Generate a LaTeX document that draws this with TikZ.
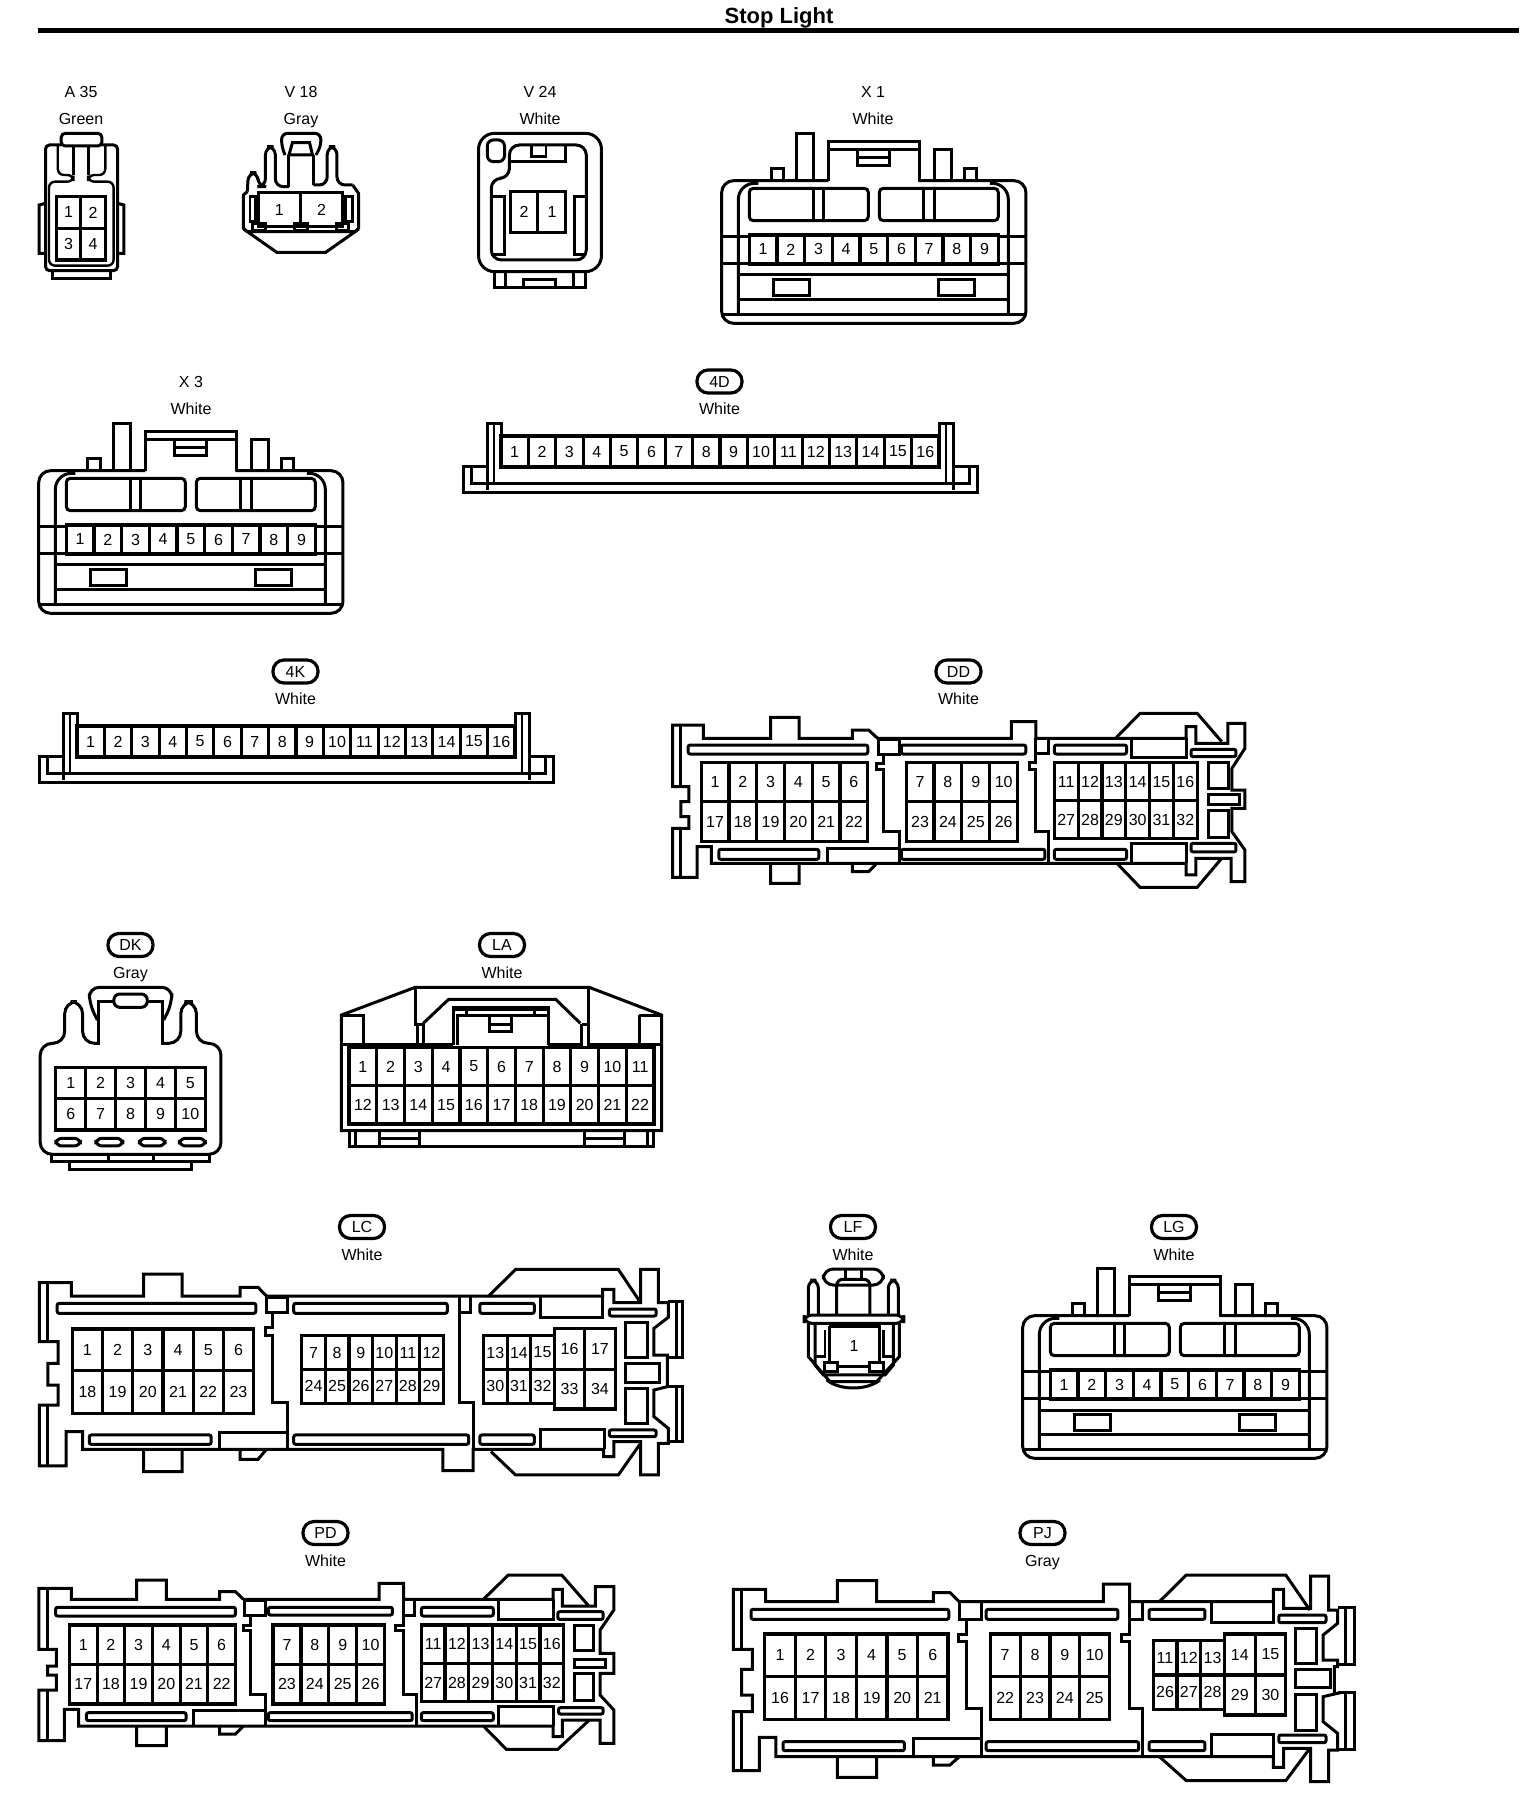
\documentclass[tikz,border=0pt]{standalone}
\usepackage{fontspec}
\setmainfont{Liberation Sans}
\tikzset{
  conn/.style={line width=1.5pt,line join=miter,draw=black},
  thin conn/.style={line width=1.2pt,line join=miter,draw=black},
  pinline/.style={line width=1.6pt,draw=black},
  pinnum/.style={font=\fontsize{8}{9}\selectfont,inner sep=0pt},
  lbl/.style={font=\fontsize{8}{9}\selectfont,inner sep=0pt,text height=5.8pt,text depth=0pt},
  pill/.style={draw=black,line width=1.6pt,rounded corners=5.5pt,minimum width=22.5pt,minimum height=11.5pt,inner sep=0pt,font=\fontsize{8}{9}\selectfont},
  slot/.style={line width=1.5pt,draw=black,rounded corners=1pt}
}
% x0,y0,x1,y1,cols,first number
\newcommand\pinrow[6]{%
  \pgfmathsetmacro\cw{(#3-#1)/#5}%
  \pgfmathsetmacro\yc{(#2+#4)/2}%
  \draw[pinline] (#1,#2) rectangle (#3,#4);
  \foreach \k in {1,...,#5}{%
    \pgfmathsetmacro\xa{#1+\k*\cw}%
    \pgfmathsetmacro\xc{#1+(\k-.5)*\cw}%
    \pgfmathtruncatemacro\num{#6+\k-1}%
    \ifnum\k<#5 \draw[pinline] (\xa,#2)--(\xa,#4);\fi
    \node[pinnum] (\cn-\num) at (\xc,\yc) {\num};
  }%
}
\newcommand\plainhead[4]{% name,x,line1,line2
  \node[lbl] (#1-id) at (#2,92) {#3};
  \node[lbl] (#1-col) at (#2,119) {#4};
}
\newcommand\pillhead[5]{% name,x,y1,text,colour
  \node[pill] (#1-id) at (#2,#3) {#4};
  \pgfmathsetmacro\yb{#3+27.5}
  \node[lbl] (#1-col) at (#2,\yb) {#5};
}
% X-type connector
\newcommand\xtype[3]{% dx dy name
\begin{scope}[shift={(700+#1,120+#2)},xscale=.3333,yscale=.3333]
  \def\cn{#3}
  \draw[conn,rounded corners=6pt] (385,182)--(65,182)--(65,610)--(978,610)--(978,182)--(655,182);
  \draw[conn,rounded corners=8pt] (115,585)--(115,190)--(175,190);
  \draw[conn,rounded corners=8pt] (925,585)--(925,190)--(870,190);
  \draw[conn] (65,585)--(978,585);
  \draw[conn] (65,350)--(148,350) (65,430)--(148,430) (895,350)--(978,350) (895,430)--(978,430);
  \draw[conn] (115,465)--(925,465) (115,538)--(925,538);
  \draw[conn,rounded corners=2pt] (148,205) rectangle (505,302);
  \draw[conn,rounded corners=2pt] (538,205) rectangle (895,302);
  \draw[conn] (342,205)--(342,302) (372,205)--(372,302) (670,205)--(670,302) (705,205)--(705,302);
  \draw[conn] (220,478) rectangle (330,528) (715,478) rectangle (825,528);
  \draw[conn] (385,182)--(385,65)--(660,65)--(660,182) (385,88)--(660,88);
  \draw[conn] (473,88) rectangle (570,137) (473,113)--(570,113);
  \draw[conn] (290,182)--(290,40)--(342,40)--(342,182);
  \draw[conn] (703,182)--(703,88)--(755,88)--(755,182);
  \draw[conn] (213,182)--(213,145)--(250,145)--(250,182);
  \draw[conn] (793,182)--(793,145)--(830,145)--(830,182);
  \pinrow{148}{345}{895}{432}{9}{1}
\end{scope}}
% strip connector
\newcommand\stripconn[3]{%
\begin{scope}[shift={(#1,#2)}]
  \def\cn{#3}
  \draw[conn] (487,466)--(463,466)--(463,492)--(977,492)--(977,466)--(953,466);
  \draw[conn] (471,467)--(471,483)--(969,483)--(969,467);
  \draw[conn] (487,490)--(487,423)--(501,423)--(501,436);
  \draw[conn] (939,436)--(939,423)--(953,423)--(953,490);
  \draw[thin conn] (494,423)--(494,484) (946,423)--(946,484);
  \pinrow{501}{436}{939}{467}{16}{1}
\end{scope}}
\begin{document}
\begin{tikzpicture}[x=.5pt,y=-.5pt]
\useasboundingbox (0,0) rectangle (1536,1800);
\node[inner sep=0pt,font=\fontsize{11}{12}\selectfont\bfseries] (title) at (779,18) {Stop Light};
\coordinate (ruleL) at (38,30.3);
\coordinate (ruleR) at (1519,30.3);
\draw[line width=2.4pt] (ruleL)--(ruleR);

% headers
\plainhead{A35}{81}{A 35}{Green}
\plainhead{V18}{301}{V 18}{Gray}
\plainhead{V24}{540}{V 24}{White}
\plainhead{X1}{873}{X 1}{White}
\node[lbl] (X3-id) at (191,381.5) {X 3};
\node[lbl] (X3-col) at (191,409) {White};
\pillhead{4D}{719.5}{381.5}{4D}{White}
\pillhead{4K}{295.5}{671.5}{4K}{White}
\pillhead{DD}{958.5}{671.5}{DD}{White}
\pillhead{DK}{130.5}{945}{DK}{Gray}
\pillhead{LA}{502}{945}{LA}{White}
\pillhead{LC}{362}{1227}{LC}{White}
\pillhead{LF}{853}{1227}{LF}{White}
\pillhead{LG}{1174}{1227}{LG}{White}
\pillhead{PD}{325.5}{1533}{PD}{White}
\pillhead{PJ}{1042.5}{1533}{PJ}{Gray}

% A35
\begin{scope}[xscale=.4898,yscale=.3333]
  \def\cn{A35}
  \draw[conn,rounded corners=2pt] (125,400) rectangle (208,438);
  \draw[conn,rounded corners=2pt] (125,435)--(93,435)--(93,812)--(240,812)--(240,435)--(208,435);
  \draw[thin conn,rounded corners=3pt] (118,438)--(118,525)--(150,525)--(150,545)--(100,545)--(100,797)--(232,797)--(232,545)--(180,545)--(180,525)--(215,525)--(215,438);
  \draw[conn] (150,438)--(150,525) (180,438)--(180,525);
  \draw[conn] (93,610)--(80,615)--(80,760)--(93,760) (240,610)--(253,615)--(253,760)--(240,760);
  \draw[conn] (108,812)--(108,835)--(225,835)--(225,812);
  \pinrow{115}{590}{215}{685}{2}{1}
  \pinrow{115}{685}{215}{780}{2}{3}
\end{scope}

% V18
\begin{scope}[xscale=.4898,yscale=.3333]
  \def\cn{V18}
  \draw[conn,rounded corners=3pt] (582,465)--(575,440)--(575,400)--(655,400)--(655,440)--(645,465);
  \draw[conn] (590,465)--(597,428)--(632,428)--(638,465)--cycle;
  \draw[conn] (590,465)--(590,560) (640,465)--(640,555);
  \draw[conn,rounded corners=4pt] (505,575)--(507,518)--(527,518)--(527,560)--(542,560)--(542,440)--(562,440)--(562,560)--(590,560);
  \draw[conn,rounded corners=4pt] (640,555)--(668,555)--(668,440)--(688,440)--(688,555)--(720,555);
  \draw[conn] (720,555)--(732,580)--(732,685)--(725,695) (505,575)--(497,585)--(497,685)--(505,695);
  \draw[conn] (505,695)--(565,757)--(665,757)--(725,695)--cycle;
  \pinrow{527}{578}{700}{680}{2}{1}
  \draw[conn] (515,672) rectangle (542,692) (602,672) rectangle (628,692) (688,672) rectangle (712,692);
  \draw[thin conn] (510,590) rectangle (522,665) (705,590) rectangle (720,665);
\end{scope}

% V24
\begin{scope}[xscale=.4898,yscale=.3333]
  \def\cn{V24}
  \draw[conn,rounded corners=8pt] (977,400) rectangle (1228,815);
  \draw[conn,rounded corners=5pt] (1040,510)--(1040,435)--(1197,435)--(1197,780)--(1003,780)--(1003,535)--(1040,535)--(1040,500);
  \draw[conn] (1040,485)--(1155,485)--(1155,435);
  \draw[thin conn] (1085,435)--(1085,470)--(1115,470)--(1115,435);
  \draw[conn,rounded corners=3pt] (995,420) rectangle (1030,485);
  \draw[conn] (1003,590)--(1030,590)--(1030,765)--(1003,765) (1197,590)--(1172,590)--(1172,765)--(1197,765);
  \draw[conn] (1010,815)--(1010,862)--(1195,862)--(1195,815);
  \draw[conn] (1032,815)--(1032,862) (1170,815)--(1170,862);
  \draw[conn] (1068,862)--(1068,838)--(1135,838)--(1135,862);
  \draw[pinline] (1043,575) rectangle (1155,697) (1098,575)--(1098,697);
  \node[pinnum] (V24-2) at (1070,635) {2};
  \node[pinnum] (V24-1) at (1127,635) {1};
\end{scope}

\xtype{0}{0}{X1}
\xtype{-683}{290}{X3}
\xtype{301}{1135}{LG}
\stripconn{0}{0}{S4D}
\stripconn{-424}{290}{S4K}

% DD
\begin{scope}[shift={(640,680)},xscale=.4082,yscale=.3333]
  \def\cn{DD}
  \draw[conn] (582,175)--(910,175)--(910,125)--(970,125)--(970,175)--(1165,175)--(1225,100)--(1365,100)--(1425,185);
  \draw[conn] (1165,175)--(1338,175)--(1338,140)--(1362,140)--(1362,190)--(1440,190)--(1440,130)--(1482,130)--(1482,205)--(1450,265)--(1450,330)--(1482,330)--(1482,385)--(1450,385)--(1450,455)--(1482,510)--(1482,605)--(1448,605)--(1448,535)--(1362,535)--(1362,585)--(1338,585)--(1338,550)--(175,550)--(175,500)--(140,500)--(140,592)--(80,592)--(80,445)--(120,445)--(120,410)--(100,410)--(100,365)--(120,365)--(120,320)--(80,320)--(80,135)--(155,135)--(155,175)--(320,175)--(320,112)--(390,112)--(390,175)--(520,175)--(520,150)--(560,150)--(582,175);
  \draw[conn] (1170,552)--(1225,622)--(1365,622)--(1425,535);
  \draw[conn] (100,138)--(100,318) (100,447)--(100,590);
  \draw[conn] (320,550)--(320,610)--(390,610)--(390,550) (520,550)--(520,575)--(560,575)--(580,550);
  \draw[slot] (118,195) rectangle (558,222) (640,195) rectangle (945,222) (1015,195) rectangle (1192,222) (193,508) rectangle (438,538) (640,508) rectangle (992,538) (1015,508) rectangle (1192,538);
  \draw[conn] (1205,175)--(1205,232)--(1338,232)--(1338,175) (1205,550)--(1205,490)--(1338,490)--(1338,550);
  \draw[conn] (460,550)--(460,505)--(635,505);
  \draw[conn] (585,178) rectangle (635,222);
  \draw[conn] (597,222)--(597,250)--(580,250)--(580,268)--(597,268)--(597,455)--(635,455)--(635,550);
  \draw[conn] (1000,175)--(1000,220)--(970,220);
  \draw[conn] (970,175)--(970,248)--(955,248)--(955,268)--(970,268)--(970,455)--(1000,455)--(1000,550);
  \draw[slot] (1350,208) rectangle (1460,230) (1350,490) rectangle (1460,516);
  \draw[conn] (1392,248) rectangle (1442,325) (1392,345) rectangle (1468,375) (1392,393) rectangle (1442,472);
  \pinrow{150}{248}{558}{365}{6}{1}
  \pinrow{150}{365}{558}{485}{6}{17}
  \pinrow{652}{248}{925}{365}{4}{7}
  \pinrow{652}{365}{925}{485}{4}{23}
  \pinrow{1015}{248}{1365}{362}{6}{11}
  \pinrow{1015}{362}{1365}{475}{6}{27}
\end{scope}

% DK
\begin{scope}[shift={(0,920)},xscale=.4464,yscale=.3333]
  \def\cn{DK}
  \draw[conn,rounded corners=6pt] (220,370)--(185,370)--(185,245)--(145,245)--(145,370)--(90,370)--(90,703)--(495,703)--(495,370)--(440,370)--(440,245)--(405,245)--(405,370)--(365,370);
  \draw[conn] (220,375)--(220,245)--(365,245)--(365,375);
  \draw[conn,rounded corners=5pt] (218,300)--(200,250)--(200,202)--(385,202)--(385,250)--(367,300);
  \fill[white,rounded corners=2pt] (255,222) rectangle (330,262);
  \draw[conn,rounded corners=3pt] (255,222) rectangle (330,262);
  \pinrow{125}{442}{460}{535}{5}{1}
  \pinrow{125}{535}{460}{630}{5}{6}
  \draw[conn,rounded corners=3pt] (125,655) rectangle (180,678) (215,655) rectangle (275,678) (312,655) rectangle (370,678) (402,655) rectangle (460,678);
  \draw[conn] (115,703)--(115,725)--(470,725)--(470,703) (242,703)--(242,725) (343,703)--(343,725);
  \draw[conn] (155,725)--(155,748)--(430,748)--(430,725);
\end{scope}

% LA
\begin{scope}[shift={(0,920)},xscale=.4464,yscale=.3333]
  \def\cn{LA}
  \draw[conn] (765,285)--(930,202)--(1320,202)--(1482,285)--(1482,632)--(765,632)--cycle;
  \draw[conn] (930,202)--(930,312)--(948,312)--(948,382) (935,312)--(935,382);
  \draw[conn] (1318,202)--(1318,382) (1303,312)--(1318,312) (1303,312)--(1303,382);
  \draw[conn] (948,310)--(1005,238)--(1245,238)--(1300,310);
  \draw[conn] (1015,375)--(1015,262)--(1228,262)--(1228,375);
  \draw[conn] (1025,375)--(1025,285)--(1225,285);
  \draw[thin conn] (1020,270)--(1225,270) (1045,270)--(1045,285) (1197,270)--(1197,285);
  \draw[conn] (1097,285)--(1097,335)--(1145,335)--(1145,285) (1097,312)--(1145,312);
  \draw[conn] (765,285)--(815,285)--(815,372) (1432,285)--(1432,372)  (1432,285)--(1482,285);
  \draw[conn] (765,372)--(948,372) (948,372)--(1015,372) (1228,372)--(1303,372) (1318,372)--(1482,372);
  \pinrow{782}{382}{1465}{497}{11}{1}
  \pinrow{782}{497}{1465}{612}{11}{12}
  \draw[conn] (782,632)--(782,680)--(1465,680)--(1465,632);
  \draw[conn] (797,632)--(797,680) (1450,632)--(1450,680);
  \draw[conn] (850,632)--(850,680) (940,632)--(940,680) (850,655)--(940,655);
  \draw[conn] (1310,632)--(1310,680) (1400,632)--(1400,680) (1310,655)--(1400,655);
\end{scope}

% LC
\begin{scope}[shift={(0,1240)},xscale=.4464,yscale=.3333]
  \def\cn{LC}
  \draw[conn] (597,168)--(1095,168)--(1155,88)--(1385,88)--(1435,188);
  \draw[conn] (1095,168)--(1350,168)--(1350,148)--(1375,148)--(1375,188)--(1435,188)--(1435,88)--(1475,88)--(1475,188)--(1497,188)--(1497,232)--(1465,265)--(1465,345)--(1495,345)--(1495,440)--(1465,450)--(1465,530)--(1497,565)--(1497,610)--(1475,610)--(1475,705)--(1435,705)--(1435,605)--(1375,605)--(1375,650)--(1352,650)--(1352,628)--(1060,628)--(1060,692)--(992,692)--(992,628)--(185,628)--(185,575)--(148,575)--(148,678)--(88,678)--(88,495)--(130,495)--(130,435)--(107,435)--(107,370)--(130,370)--(130,305)--(88,305)--(88,128)--(160,128)--(160,168)--(322,168)--(322,102)--(408,102)--(408,168)--(538,168)--(538,142)--(578,142)--(597,168);
  \draw[conn] (1497,185)--(1530,185)--(1530,352)--(1495,352) (1497,440)--(1530,440)--(1530,605)--(1497,605) (1515,185)--(1515,352) (1515,440)--(1515,605);
  \draw[conn] (107,132)--(107,303) (107,498)--(107,675);
  \draw[conn] (322,628)--(322,695)--(408,695)--(408,628) (538,628)--(538,658)--(578,658)--(597,628);
  \draw[conn] (1100,635)--(1155,705)--(1385,705)--(1435,610);
  \draw[slot] (128,190) rectangle (573,220) (658,190) rectangle (1002,220) (1075,190) rectangle (1197,220) (200,585) rectangle (473,613) (658,585) rectangle (1050,613) (1075,585) rectangle (1197,613);
  \draw[conn] (1210,168)--(1210,232)--(1350,232)--(1350,168) (1210,628)--(1210,568)--(1355,568)--(1355,628);
  \draw[conn] (492,628)--(492,578)--(645,578);
  \draw[conn] (597,172) rectangle (645,218);
  \draw[conn] (610,218)--(610,262)--(595,262)--(595,285)--(610,285)--(610,488)--(645,488)--(645,628);
  \draw[conn] (1030,170)--(1030,488)--(1060,488)--(1060,628) (1055,170)--(1055,218)--(1030,218);
  \draw[slot] (1365,207) rectangle (1470,228) (1365,570) rectangle (1470,590);
  \draw[conn] (1402,248) rectangle (1450,352) (1402,370) rectangle (1478,428) (1402,445) rectangle (1450,550);
  \pinrow{162}{267}{568}{392}{6}{1}
  \pinrow{162}{392}{568}{520}{6}{18}
  \pinrow{676}{287}{993}{388}{6}{7}
  \pinrow{676}{388}{993}{490}{6}{24}
  \pinrow{1083}{287}{1242}{388}{3}{13}
  \pinrow{1083}{388}{1242}{490}{3}{30}
  \pinrow{1242}{265}{1378}{388}{2}{16}
  \pinrow{1242}{388}{1378}{507}{2}{33}
\end{scope}

% LF
\begin{scope}[shift={(780,1200)},xscale=.3333,yscale=.3333]
  \def\cn{LF}
  \draw[conn,rounded corners=5pt] (130,255)--(130,207)--(310,207)--(310,255)--cycle;
  \draw[conn] (195,207)--(195,235) (245,207)--(245,235);
  \draw[conn,rounded corners=3pt] (170,345)--(170,238)--(270,238)--(270,345);
  \draw[conn,rounded corners=4pt] (85,345)--(85,240)--(115,240)--(115,345);
  \draw[conn,rounded corners=4pt] (325,345)--(325,240)--(355,240)--(355,345);
  \draw[conn,rounded corners=4pt] (72,345) rectangle (372,370);
  \draw[conn] (85,370)--(85,470)--(150,545)--(290,545)--(358,470)--(358,370);
  \draw[conn] (140,540) .. controls (180,572) and (260,572) .. (300,540);
  \draw[conn] (105,370)--(105,495)--(130,525)--(315,525)--(340,495)--(340,370);
  \draw[thin conn] (135,390)--(135,470)--(105,470) (310,390)--(310,470)--(340,470);
  \draw[pinline] (148,378)--(298,378)--(298,490) (148,378)--(148,490) (172,500)--(270,500);
  \node[pinnum] (LF-1) at (222,438) {1};
  \draw[conn] (132,488) rectangle (172,515) (270,488) rectangle (310,515);
\end{scope}

% PD
\begin{scope}[shift={(20,1560)},xscale=.3954,yscale=.3333]
  \def\cn{PD}
  \draw[conn] (565,118)--(908,118)--(908,70)--(970,70)--(970,118)--(1172,118)--(1235,45)--(1370,45)--(1440,140);
  \draw[conn] (1172,118)--(1348,118)--(1348,88)--(1372,88)--(1372,138)--(1455,138)--(1455,80)--(1502,80)--(1502,150)--(1467,210)--(1467,280)--(1502,280)--(1502,340)--(1467,340)--(1467,405)--(1502,450)--(1502,550)--(1467,550)--(1467,480)--(1372,480)--(1372,530)--(1348,530)--(1348,498)--(148,498)--(148,448)--(112,448)--(112,542)--(48,542)--(48,390)--(92,390)--(92,345)--(70,345)--(70,318)--(92,318)--(92,268)--(48,268)--(48,85)--(130,85)--(130,118)--(295,118)--(295,60)--(370,60)--(370,118)--(505,118)--(505,95)--(545,95)--(565,118);
  \draw[conn] (70,90)--(70,265) (70,392)--(70,538);
  \draw[conn] (295,498)--(295,557)--(370,557)--(370,498) (505,498)--(505,522)--(545,522)--(565,498);
  \draw[conn] (1172,498)--(1230,568)--(1360,568)--(1440,480);
  \draw[slot] (90,142) rectangle (545,168) (628,142) rectangle (942,165) (1015,142) rectangle (1197,168) (168,458) rectangle (420,482) (628,458) rectangle (992,482) (1015,458) rectangle (1197,482);
  \draw[conn] (1210,118)--(1210,178)--(1350,178)--(1350,118) (1210,498)--(1210,438)--(1350,438)--(1350,498);
  \draw[conn] (440,498)--(440,450)--(618,450);
  \draw[conn] (567,122) rectangle (620,165);
  \draw[conn] (582,168)--(582,195)--(565,195)--(565,212)--(582,212)--(582,402)--(620,402)--(620,498);
  \draw[conn] (998,118)--(998,165)--(970,165);
  \draw[conn] (970,118)--(970,195)--(950,195)--(950,212)--(970,212)--(970,402)--(1002,402)--(1002,498);
  \draw[slot] (1360,155) rectangle (1475,178) (1362,443) rectangle (1475,462);
  \draw[conn] (1402,195) rectangle (1450,272) (1402,297) rectangle (1482,322) (1402,340) rectangle (1450,422);
  \pinrow{125}{195}{545}{313}{6}{1}
  \pinrow{125}{313}{545}{432}{6}{17}
  \pinrow{640}{195}{922}{313}{4}{7}
  \pinrow{640}{313}{922}{432}{4}{23}
  \pinrow{1015}{195}{1375}{310}{6}{11}
  \pinrow{1015}{310}{1375}{425}{6}{27}
\end{scope}

% PJ
\begin{scope}[shift={(720,1560)},xscale=.4145,yscale=.3333]
  \def\cn{PJ}
  \draw[conn] (577,125)--(925,125)--(925,72)--(988,72)--(988,125)--(1060,125)--(1125,45)--(1365,45)--(1423,150);
  \draw[conn] (1060,125)--(1335,125)--(1335,88)--(1360,88)--(1360,145)--(1425,145)--(1425,48)--(1468,48)--(1468,150)--(1490,150)--(1490,190)--(1455,225)--(1455,300)--(1490,300)--(1490,320)--(1482,320)--(1482,400)--(1490,400)--(1455,410)--(1455,485)--(1490,520)--(1490,570)--(1468,570)--(1468,665)--(1425,665)--(1425,565)--(1360,565)--(1360,622)--(1335,622)--(1335,590)--(135,590)--(135,532)--(95,532)--(95,632)--(32,632)--(32,455)--(78,455)--(78,405)--(52,405)--(52,328)--(78,328)--(78,268)--(32,268)--(32,88)--(110,88)--(110,125)--(283,125)--(283,62)--(378,62)--(378,125)--(515,125)--(515,98)--(555,98)--(577,125);
  \draw[conn] (1490,142)--(1530,142)--(1530,312)--(1490,312) (1490,398)--(1530,398)--(1530,568)--(1490,568) (1508,142)--(1508,312) (1508,398)--(1508,568);
  \draw[conn] (52,92)--(52,265) (52,458)--(52,630);
  \draw[conn] (283,590)--(283,652)--(378,652)--(378,590) (515,590)--(515,615)--(555,615)--(577,590);
  \draw[conn] (1060,590)--(1125,662)--(1365,662)--(1423,565);
  \draw[slot] (75,148) rectangle (552,178) (642,148) rectangle (960,178) (1035,148) rectangle (1170,178) (152,545) rectangle (445,572) (642,545) rectangle (1010,572) (1035,545) rectangle (1170,572);
  \draw[conn] (1185,125)--(1185,188)--(1335,188)--(1335,125) (1185,590)--(1185,522)--(1335,522)--(1335,590);
  \draw[conn] (468,590)--(468,535)--(632,535);
  \draw[conn] (578,125) rectangle (632,178);
  \draw[conn] (595,180)--(595,222)--(575,222)--(575,243)--(595,243)--(595,445)--(632,445)--(632,590);
  \draw[conn] (1020,125)--(1020,178)--(988,178);
  \draw[conn] (988,125)--(988,222)--(968,222)--(968,243)--(988,243)--(988,445)--(1020,445)--(1020,590);
  \draw[slot] (1348,165) rectangle (1462,188) (1348,525) rectangle (1462,548);
  \draw[conn] (1388,205) rectangle (1440,310) (1388,328) rectangle (1472,382) (1388,403) rectangle (1440,510);
  \pinrow{108}{222}{550}{350}{6}{1}
  \pinrow{108}{350}{550}{478}{6}{16}
  \pinrow{652}{222}{940}{350}{4}{7}
  \pinrow{652}{350}{940}{478}{4}{22}
  \pinrow{1045}{242}{1217}{345}{3}{11}
  \pinrow{1045}{345}{1217}{448}{3}{26}
  \pinrow{1217}{222}{1365}{345}{2}{14}
  \pinrow{1217}{345}{1365}{465}{2}{29}
\end{scope}
\end{tikzpicture}
\end{document}
